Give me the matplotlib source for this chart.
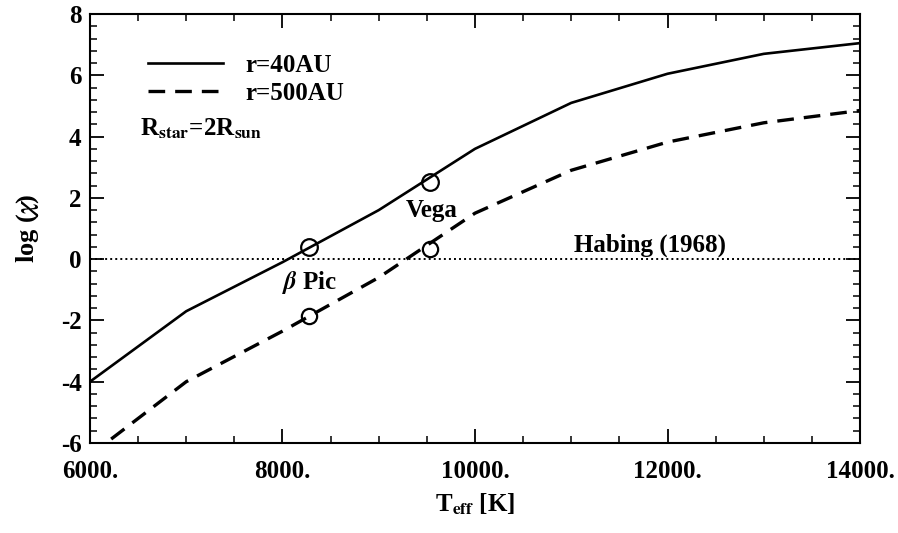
import numpy as np
import matplotlib.pyplot as plt
from matplotlib.ticker import MultipleLocator, FuncFormatter

# ------------------------
# Datos
# ------------------------
teff = [6000, 7000, 8000, 9000, 10000, 11000, 12000, 13000, 14000]
logchi_40 = [-4.0, -1.7, -0.1, 1.6, 3.6, 5.1, 6.05, 6.7, 7.05]
logchi_500 = [-6.4, -4.0, -2.35, -0.6, 1.5, 2.9, 3.82, 4.45, 4.85]

# estrellas: beta Pic y Vega
star_names = [r'$\mathit{\beta}$ Pic', 'Vega']
star_teff = [8280, 9530]
star_40 = [0.39, 2.51]
star_500 = [-1.87, 0.33]

habing = 0.0

plt.rcParams['font.family'] = ['Liberation Serif', 'DejaVu Serif']
plt.rcParams['font.weight'] = 'bold'
plt.rcParams['axes.labelweight'] = 'bold'
plt.rcParams['mathtext.fontset'] = 'stix'
plt.rcParams['mathtext.default'] = 'bf'

fig = plt.figure(figsize=(8.98, 5.33), dpi=100)
ax = fig.add_axes([0.1002, 0.1689, 0.8575, 0.8048])

ax.plot(teff, logchi_40, 'k-', lw=1.9, label='r=40AU')
ax.plot(teff, logchi_500, 'k--', lw=2.4, dashes=(5, 3.0), label='r=500AU')
ax.axhline(habing, color='k', ls=(0, (1, 1.6)), lw=1.4)

ax.plot(star_teff, star_40, 'o', mfc='none', mec='k', mew=1.6, ms=12)
ax.plot(star_teff, star_500, 'o', mfc='none', mec='k', mew=1.6, ms=11)

# etiquetas
ax.text(star_teff[0], -0.75, star_names[0], ha='center', va='center', fontsize=18)
ax.text(star_teff[1] + 20, 1.6, star_names[1], ha='center', va='center', fontsize=18)
ax.text(11820, 0.45, 'Habing (1968)', ha='center', va='center', fontsize=18)
ax.text(6520, 4.25, r'R$_{\rm star}$=2R$_{\rm sun}$', ha='left', va='center', fontsize=18)

leg = ax.legend(loc='upper left', frameon=False, fontsize=18, handlelength=3.0,
                handletextpad=0.9, labelspacing=0.2, borderaxespad=0.0,
                bbox_to_anchor=(0.062, 0.93))

ax.set_xlim(6000, 14000)
ax.set_ylim(-6, 8)
ax.xaxis.set_major_locator(MultipleLocator(2000))
ax.xaxis.set_minor_locator(MultipleLocator(500))
ax.yaxis.set_major_locator(MultipleLocator(2))
ax.yaxis.set_minor_locator(MultipleLocator(0.4))
ax.xaxis.set_major_formatter(FuncFormatter(lambda v, p: f'{int(v)}.'))
ax.yaxis.set_major_formatter(FuncFormatter(lambda v, p: f'{int(v)}'))
ax.tick_params(which='both', direction='in', top=True, right=True, labelsize=18)
ax.tick_params(which='major', length=10, width=1.3)
ax.tick_params(which='minor', length=5, width=1.1)
ax.tick_params(axis='x', pad=12)
ax.tick_params(axis='y', pad=6)
for s in ax.spines.values():
    s.set_linewidth(1.5)

ax.set_xlabel(r'T$_{\rm eff}$ [K]', fontsize=18, labelpad=6)
ax.set_ylabel(r'log ($\mathit{\chi}$)', fontsize=19, labelpad=14)

fig.savefig('out.png', dpi=100)
